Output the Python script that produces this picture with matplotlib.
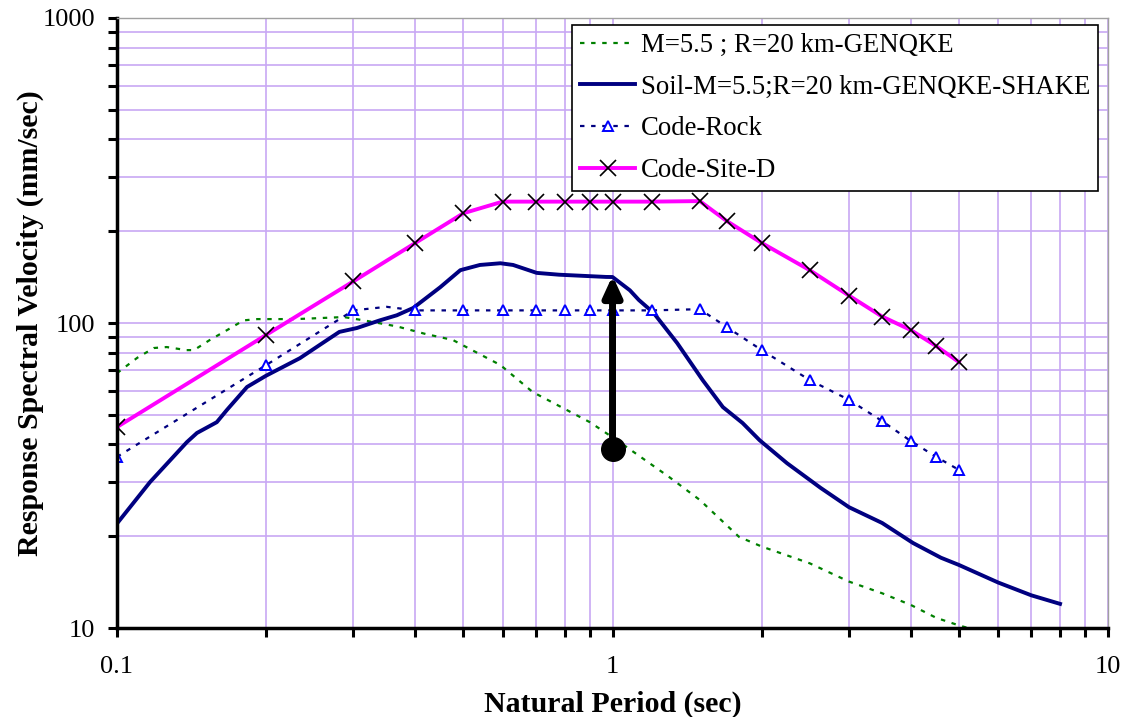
import matplotlib
matplotlib.use('Agg')
import matplotlib.pyplot as plt
from matplotlib.ticker import LogLocator, NullFormatter, FixedLocator, FixedFormatter

plt.rcParams['font.family'] = ['Liberation Serif', 'DejaVu Serif']

# GENQKE rock motion
t_genqke = [0.1, 0.11, 0.1187, 0.126, 0.138, 0.143, 0.154, 0.167, 0.18, 0.192, 0.23,
            0.287, 0.315, 0.367, 0.42, 0.476, 0.594, 0.69, 0.9, 1.02, 1.3, 1.5, 1.8,
            2.0, 2.5, 3.0, 3.5, 4.0, 4.5, 5.0, 5.7, 6.2]
v_genqke = [68.5, 77, 82.8, 83.4, 81.5, 81.5, 88, 94.9, 102, 103, 103,
            104.6, 102, 97.5, 92, 88, 72.8, 59.4, 47.3, 41.3, 31.3, 26.3, 19.9,
            18.5, 16.3, 14.2, 13.0, 11.9, 10.8, 10.2, 9.6, 9.4]

# Soil response (SHAKE)
t_soil = [0.1, 0.1166, 0.1384, 0.145, 0.159, 0.1667, 0.183, 0.2, 0.234, 0.262, 0.281,
          0.305, 0.339, 0.367, 0.396, 0.449, 0.493, 0.54, 0.594, 0.63, 0.703, 0.78,
          0.97, 1.0, 1.084, 1.13, 1.21, 1.35, 1.52, 1.67, 1.83, 1.98, 2.25, 2.63,
          3.0, 3.5, 4.04, 4.6, 5.0, 6.0, 7.0, 8.0]
v_soil = [22.0, 30.1, 40.7, 43.6, 47.3, 51.9, 61.7, 67.2, 76.7, 86.7, 93.5,
          96.3, 102, 106, 112, 131, 149, 155, 157, 155, 146, 144,
          141.6, 141.5, 128, 119, 108, 86, 65, 53, 47, 41.3, 34.7, 28.8,
          24.9, 22.1, 19, 17, 16.1, 14.1, 12.8, 12.0]

# Code spectrum, rock (0.35 s point drawn without marker)
t_rock = [0.1, 0.2, 0.3, 0.35, 0.4, 0.5, 0.6, 0.7, 0.8, 0.9, 1.0, 1.2, 1.5, 1.7,
          2.0, 2.5, 3.0, 3.5, 4.0, 4.5, 5.0]
v_rock = [36.4, 72.8, 110, 113, 110, 110, 110, 110, 110, 110, 110, 110, 111, 97,
          81.5, 65, 56, 47.7, 41, 36.4, 33]
rock_marked = [i for i, t in enumerate(t_rock) if t != 0.35]

# Code spectrum, site class D
t_site = [0.1, 0.2, 0.3, 0.4, 0.5, 0.6, 0.7, 0.8, 0.9, 1.0, 1.2, 1.5, 1.7, 2.0,
          2.5, 3.0, 3.5, 4.0, 4.5, 5.0]
v_site = [45.6, 91.4, 137, 183, 229, 250, 250, 250, 250, 250, 250, 251, 216, 183,
          149, 123, 105, 94.8, 84, 74.5]

arrow_t = 1.0
arrow_from = 38.6
arrow_to = 143

fig = plt.figure(figsize=(11.27, 7.17), dpi=100)
ax = fig.add_axes([0.1038, 0.1241, 0.8794, 0.8508])

ax.plot(t_genqke, v_genqke, color='#008000', lw=1.6, dashes=(2, 3),
        label='M=5.5 ; R=20 km-GENQKE')
ax.plot(t_soil, v_soil, color='#000080', lw=2.8, label='Soil-M=5.5;R=20 km-GENQKE-SHAKE')
ax.plot(t_rock, v_rock, color='#000080', lw=1.6, dashes=(2, 3), marker='^',
        markevery=rock_marked, markersize=7, markerfacecolor='white',
        markeredgecolor='#0000FF', markeredgewidth=1.4, label='Code-Rock')
ax.plot(t_site, v_site, color='#FF00FF', lw=2.8, marker='x', markersize=11,
        markeredgecolor='black', markeredgewidth=1.2, label='Code-Site-D')

ax.annotate('', xy=(arrow_t, arrow_to), xytext=(arrow_t, arrow_from),
            arrowprops=dict(arrowstyle='-|>,head_width=0.55,head_length=1.2',
                            color='black', lw=5, shrinkA=0, shrinkB=0))
ax.plot([arrow_t], [arrow_from], 'o', color='black', markersize=17)

ax.set_xscale('log')
ax.set_yscale('log')
ax.set_xlim(0.1, 10)
ax.set_ylim(10, 1000)

ax.xaxis.set_major_locator(FixedLocator([0.1, 1, 10]))
ax.xaxis.set_major_formatter(FixedFormatter(['0.1', '1', '10']))
ax.xaxis.set_minor_locator(LogLocator(base=10, subs=range(2, 10)))
ax.xaxis.set_minor_formatter(NullFormatter())
ax.yaxis.set_major_locator(FixedLocator([10, 100, 1000]))
ax.yaxis.set_major_formatter(FixedFormatter(['10', '100', '1000']))
ax.yaxis.set_minor_locator(LogLocator(base=10, subs=range(2, 10)))
ax.yaxis.set_minor_formatter(NullFormatter())

ax.grid(True, which='both', color='#C8A8F4', lw=1.2)
ax.set_axisbelow(True)
ax.tick_params(which='both', direction='out', length=6.5, width=2.2, labelsize=19)
ax.tick_params(axis='x', pad=14)
ax.tick_params(axis='y', pad=9)

for s in ['left', 'bottom']:
    ax.spines[s].set_linewidth(2.5)
for s in ['top', 'right']:
    ax.spines[s].set_color('#A0A0A0')
    ax.spines[s].set_linewidth(1)

ax.set_xlabel('Natural Period (sec)', fontsize=21.5, fontweight='bold', labelpad=9)
ax.set_ylabel('Response Spectral Velocity (mm/sec)', fontsize=21.5, fontweight='bold',
              labelpad=-1)

leg = ax.legend(loc='upper right', bbox_to_anchor=(1 - 10 / 991, 1 - 7 / 610),
                fontsize=19.3, frameon=True, fancybox=False, edgecolor='black',
                framealpha=1, borderpad=0.3, labelspacing=0.62, handlelength=2.05,
                handletextpad=0.2, borderaxespad=0)
leg.get_frame().set_linewidth(1.2)

fig.savefig('out.png', dpi=100)
